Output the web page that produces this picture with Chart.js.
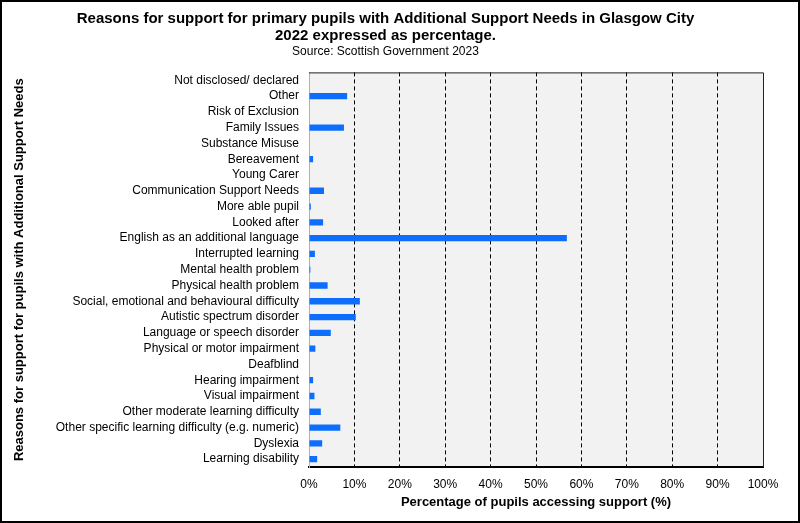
<!DOCTYPE html>
<html>
<head>
<meta charset="utf-8">
<script src="https://cdn.jsdelivr.net/npm/chart.js@4"></script>
<style>
  html, body { margin: 0; padding: 0; background: #fff; }
  #wrap { width: 800px; height: 523px; }
</style>
</head>
<body>
<div id="wrap"><canvas id="aspChart" width="800" height="523"></canvas></div>
<script>
// reasons for support, top to bottom as shown
const reasons = [
  "Not disclosed/ declared", "Other", "Risk of Exclusion", "Family Issues",
  "Substance Misuse", "Bereavement", "Young Carer", "Communication Support Needs",
  "More able pupil", "Looked after", "English as an additional language",
  "Interrupted learning", "Mental health problem", "Physical health problem",
  "Social, emotional and behavioural difficulty", "Autistic spectrum disorder",
  "Language or speech disorder", "Physical or motor impairment", "Deafblind",
  "Hearing impairment", "Visual impairment", "Other moderate learning difficulty",
  "Other specific learning difficulty (e.g. numeric)", "Dyslexia", "Learning disability"
];
const percentages = [
  0, 8.4, 0, 7.7,
  0, 0.9, 0, 3.3,
  0.4, 3.1, 56.8,
  1.3, 0.3, 4.1,
  11.2, 10.3,
  4.8, 1.4, 0,
  0.9, 1.2, 2.6,
  6.9, 2.9, 1.8
];
const xTicks = [0, 10, 20, 30, 40, 50, 60, 70, 80, 90, 100];

const titleLines = [
  "Reasons for support for primary pupils with Additional Support Needs in Glasgow City",
  "2022 expressed as percentage."
];
const subtitleText = "Source: Scottish Government 2023";

const FONT = "'Liberation Sans', Arial, sans-serif";

// grey plot background + outer frame + top/right plot border
const framePlugin = {
  id: "framePlugin",
  beforeDraw(chart) {
    const { ctx, chartArea: a } = chart;
    ctx.save();
    ctx.fillStyle = "#f2f2f2";
    ctx.fillRect(a.left, a.top, a.right - a.left, a.bottom - a.top);
    ctx.restore();
  },
  afterDraw(chart) {
    const { ctx, chartArea: a, width, height } = chart;
    ctx.save();
    ctx.setLineDash([]);
    ctx.strokeStyle = "#222";
    ctx.lineWidth = 1;
    ctx.beginPath();
    ctx.moveTo(a.left, a.top + 0.5);
    ctx.lineTo(a.right + 0.5, a.top + 0.5);
    ctx.lineTo(a.right + 0.5, a.bottom);
    ctx.stroke();
    ctx.strokeStyle = "#000";
    ctx.lineWidth = 2;
    ctx.strokeRect(1, 1, width - 2, height - 2);
    ctx.restore();
  }
};

const ctx = document.getElementById("aspChart");
new Chart(ctx, {
  type: "bar",
  data: {
    labels: reasons,
    datasets: [{
      label: "Percentage",
      data: percentages,
      backgroundColor: "#0d6efd",
      borderWidth: 0,
      barPercentage: 0.4,
      categoryPercentage: 1
    }]
  },
  options: {
    indexAxis: "y",
    responsive: false,
    animation: false,
    layout: { padding: { left: 8, right: 37, top: 0, bottom: 0 } },
    plugins: {
      legend: { display: false },
      tooltip: { enabled: false },
      title: {
        display: true,
        text: titleLines,
        color: "#000",
        font: { family: FONT, size: 15, weight: "bold", lineHeight: 1.15 },
        padding: { top: 10, bottom: 0 }
      },
      subtitle: {
        display: true,
        text: subtitleText,
        color: "#000",
        font: { family: FONT, size: 12, lineHeight: 1.2 },
        padding: { top: 0, bottom: 13.5 }
      }
    },
    scales: {
      x: {
        min: 0,
        max: 100,
        afterBuildTicks(scale) {
          scale.ticks = xTicks.map(v => ({ value: v }));
        },
        ticks: {
          color: "#000",
          font: { family: FONT, size: 12 },
          padding: 10,
          maxRotation: 0,
          callback: v => v + "%"
        },
        grid: {
          drawTicks: false,
          color: c => (c.tick.value === 0 || c.tick.value === 100) ? "rgba(0,0,0,0)" : "#000",
          lineWidth: 1
        },
        border: { display: true, color: "#000", width: 2, dash: [4, 3] },
        title: {
          display: true,
          text: "Percentage of pupils accessing support (%)",
          color: "#000",
          font: { family: FONT, size: 13, weight: "bold" },
          padding: { top: -7, bottom: 13 }
        }
      },
      y: {
        afterFit(scale) { scale.width = 301; },
        ticks: {
          color: "#000",
          font: { family: FONT, size: 12 },
          padding: 10,
          autoSkip: false
        },
        grid: { display: false, drawTicks: false },
        border: { display: true, color: "#b0b0b0", width: 1 },
        title: {
          display: true,
          text: "Reasons for support for pupils with Additional Support Needs",
          color: "#000",
          font: { family: FONT, size: 13, weight: "bold" },
          padding: { top: 4, bottom: 4 }
        }
      }
    }
  },
  plugins: [framePlugin]
});
</script>
</body>
</html>
